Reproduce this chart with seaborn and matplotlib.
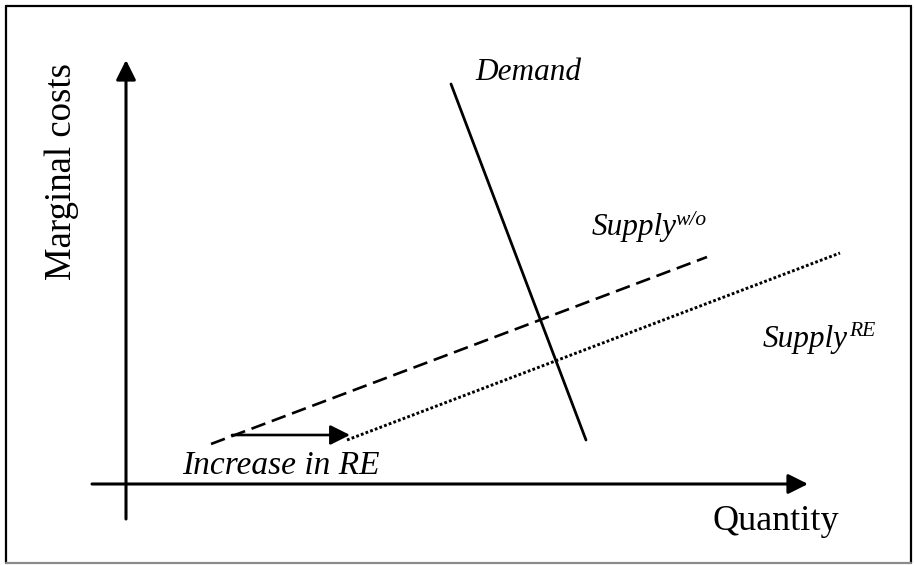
import matplotlib
matplotlib.use("Agg")
import matplotlib.pyplot as plt
import seaborn as sns
import pandas as pd
from matplotlib.lines import Line2D

# ---- data (conceptual quantity / marginal-cost units) ----
demand_q = [325, 460]
demand_c = [400, 44]
supply_wo_q = [85, 581]
supply_wo_c = [40, 227]
supply_re_q = [221, 714]
supply_re_c = [44, 231]
shift_q = [106, 224]
shift_c = [49, 49]
xaxis_q = [-34, 682]
yaxis_c = [-35, 424]

sns.set_theme(style="white")
plt.rcParams["font.family"] = ["Liberation Serif", "DejaVu Serif"]

fig = plt.figure(figsize=(9.15, 5.65), dpi=100)
ax = fig.add_axes([0, 0, 1, 1])
ax.set_xlim(-126, 789)
ax.set_ylim(-81, 484)
ax.set_axis_off()

df_dem = pd.DataFrame({"q": demand_q, "c": demand_c})
df_wo = pd.DataFrame({"q": supply_wo_q, "c": supply_wo_c})
df_re = pd.DataFrame({"q": supply_re_q, "c": supply_re_c})

sns.lineplot(data=df_dem, x="q", y="c", ax=ax, color="black", linewidth=2.0,
             sort=False, estimator=None)
sns.lineplot(data=df_wo, x="q", y="c", ax=ax, color="black", linewidth=1.9,
             sort=False, estimator=None, linestyle=(0, (5.6, 2.6)))
sns.lineplot(data=df_re, x="q", y="c", ax=ax, color="black", linewidth=2.1,
             sort=False, estimator=None, linestyle=(0, (0.95, 0.75)))

arrow_kw = dict(arrowstyle="-|>", color="black", lw=2.2, mutation_scale=30,
                shrinkA=0, shrinkB=0)
# axes arrows
ax.annotate("", xy=(xaxis_q[1], 0), xytext=(xaxis_q[0], 0), arrowprops=arrow_kw)
ax.annotate("", xy=(0, yaxis_c[1]), xytext=(0, yaxis_c[0]), arrowprops=arrow_kw)
# shift arrow
ax.annotate("", xy=(shift_q[1], shift_c[1]), xytext=(shift_q[0], shift_c[0]),
            arrowprops=dict(arrowstyle="-|>", color="black", lw=1.9,
                            mutation_scale=30, shrinkA=0, shrinkB=0))

# labels
ax.text(-64, 313, "Marginal costs", rotation=90, ha="center", va="center",
        fontsize=26.5, color="black")
ax.text(587, -46, "Quantity", ha="left", va="baseline", fontsize=26, color="black")
ax.text(402, 412, "Demand", ha="center", va="center", fontsize=22.5,
        style="italic", color="black")
ax.text(466, 249, "Supply", ha="left", va="baseline", fontsize=22.5,
        style="italic", color="black")
ax.text(549, 259, "w/o", ha="left", va="baseline", fontsize=15.5,
        style="italic", color="black")
ax.text(637, 137, "Supply", ha="left", va="baseline", fontsize=22.5,
        style="italic", color="black")
ax.text(723, 148, "RE", ha="left", va="baseline", fontsize=15.5,
        style="italic", color="black")
ax.text(56, 10, "Increase in RE", ha="left", va="baseline", fontsize=24,
        style="italic", color="black")

# frame around the figure
W, H = 915.0, 565.0
l, r, t, b = 6 / W, 911 / W, 1 - 5.5 / H, 1 - 563 / H
fig.add_artist(Line2D([l, l], [b, t], color="black", lw=1.6, transform=fig.transFigure))
fig.add_artist(Line2D([l, r], [t, t], color="black", lw=1.6, transform=fig.transFigure))
fig.add_artist(Line2D([r, r], [b, t], color="black", lw=1.6, transform=fig.transFigure))
fig.add_artist(Line2D([l, r], [b, b], color="#8a8a8a", lw=1.6, transform=fig.transFigure))

fig.savefig("out.png", dpi=100)
